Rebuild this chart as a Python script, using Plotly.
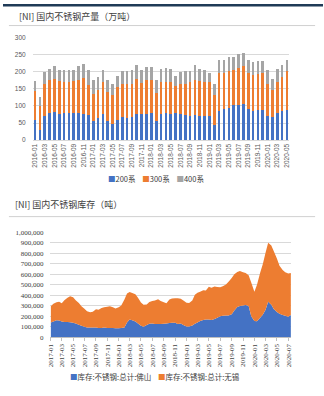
import plotly.graph_objects as go
import pandas as pd

# ---------------- Top chart: production (万吨) ----------------
months = [f"{y}-{m:02d}" for y in range(2016, 2021) for m in range(1, 13)][:53]
s200 = [60, 30, 72, 80, 83, 76, 78, 80, 78, 80, 76, 73,
        55, 66, 77, 55, 48, 60, 67, 66, 67, 75, 77, 75,
        80, 55, 77, 80, 77, 80, 75, 74, 72, 74, 72, 72,
        72, 44, 86, 92, 95, 103, 103, 105, 92, 84, 88, 88,
        70, 68, 78, 86, 88]
s300 = [84, 70, 91, 95, 94, 97, 92, 90, 94, 95, 106, 87,
        81, 80, 93, 86, 84, 95, 96, 97, 98, 102, 90, 100,
        95, 83, 93, 90, 93, 79, 88, 91, 98, 101, 101, 98,
        98, 87, 110, 104, 106, 102, 108, 110, 104, 105, 104, 108,
        95, 78, 92, 98, 113]
s400 = [28, 26, 37, 34, 38, 32, 34, 36, 34, 40, 39, 44,
        39, 37, 36, 34, 31, 31, 39, 39, 41, 42, 39, 38,
        38, 37, 39, 41, 39, 29, 36, 36, 33, 44, 36, 36,
        26, 32, 38, 38, 43, 39, 39, 40, 38, 38, 38, 36,
        39, 32, 39, 35, 34]
top_ticks = months[::2]

# ---------------- Bottom chart: inventory (吨) ----------------
inv_dates = pd.date_range("2017-01-01", periods=86, freq="SMS")
foshan = [140, 149, 160, 158, 150, 144, 144, 142, 138, 130, 118, 108,
          98, 93, 93, 93, 93, 88, 88, 92, 88, 87, 87, 85,
          84, 87, 92, 140, 168, 160, 148, 130, 108, 100, 115, 128,
          130, 126, 125, 125, 128, 131, 135, 137, 136, 126, 130, 115,
          102, 102, 112, 128, 140, 155, 163, 168, 167, 164, 172, 185,
          198, 205, 207, 207, 218, 255, 288, 296, 301, 307, 298, 200,
          155, 152, 185, 213, 260, 337, 310, 265, 240, 222, 212, 205,
          195, 212]
wuxi = [155, 169, 173, 180, 172, 208, 231, 248, 242, 222, 207, 187,
        172, 155, 145, 149, 172, 174, 190, 192, 202, 208, 198, 187,
        201, 215, 268, 275, 262, 262, 262, 246, 222, 208, 197, 207,
        215, 224, 237, 220, 204, 191, 223, 231, 234, 244, 236, 235,
        226, 223, 238, 277, 284, 277, 285, 277, 313, 308, 310, 293,
        278, 280, 295, 321, 347, 345, 334, 334, 319, 305, 292, 320,
        278, 348, 430, 482, 545, 563, 565, 551, 510, 458, 428, 415,
        413, 400]
foshan_t = [v * 1000 for v in foshan]
wuxi_t = [v * 1000 for v in wuxi]
inv_tickvals = pd.date_range("2017-01-01", "2020-07-01", freq="2MS")
inv_ticktext = [d.strftime("%Y-%m") for d in inv_tickvals]
inv_yticks = list(range(0, 1000001, 100000))

BLUE, ORANGE, GRAY = "#4472C4", "#ED7D31", "#A5A5A5"
W, H = 324, 396
def py(p):
    return 1 - p / H
def px(p):
    return p / W

top_series = [("200系", s200, BLUE), ("300系", s300, ORANGE), ("400系", s400, GRAY)]
inv_series = [("库存:不锈钢:总计:佛山", foshan_t, BLUE), ("库存:不锈钢:总计:无锡", wuxi_t, ORANGE)]

fig = go.Figure()
for name, vals, col in top_series:
    fig.add_trace(go.Bar(x=months, y=vals, name=name, marker_color=col,
                         marker_line_width=0, xaxis="x", yaxis="y", showlegend=False))
for name, vals, col in inv_series:
    fig.add_trace(go.Scatter(x=inv_dates, y=vals, name=name,
                             stackgroup="inv", mode="none", fillcolor=col,
                             line=dict(width=0), xaxis="x2", yaxis="y2", showlegend=False))

def legend_text(items, gap):
    return ("&nbsp;" * gap).join(
        f"<span style='color:{c}'>■</span>{n}" for n, _, c in items)

tickfont = dict(family="Liberation Sans, Arial", size=6.5, color="#595959")
seriffont = dict(family="Liberation Serif, Times New Roman", size=7, color="#404040")
cjk = "Noto Sans CJK SC"

fig.update_layout(
    width=W, height=H, margin=dict(l=0, r=0, t=0, b=0),
    paper_bgcolor="white", plot_bgcolor="white",
    barmode="stack", bargap=0.45, showlegend=False,
    xaxis=dict(domain=[px(30), px(290)], type="category", tickmode="array",
               tickvals=top_ticks, ticktext=top_ticks, tickangle=-90,
               tickfont=tickfont, showgrid=False, showline=True,
               linecolor="#D9D9D9", ticks="", anchor="y"),
    yaxis=dict(domain=[py(139), py(34)], range=[0, 300], dtick=50,
               tickfont=tickfont, gridcolor="#D9D9D9", gridwidth=1,
               zeroline=False, showline=False, anchor="x", ticklabelstandoff=6),
    xaxis2=dict(domain=[px(48), px(292)], type="date",
                range=["2016-12-30", "2020-07-18"], tickmode="array",
                tickvals=inv_tickvals, ticktext=inv_ticktext, tickangle=-90,
                tickfont=seriffont, showgrid=False, showline=True,
                linecolor="#BFBFBF", ticks="outside", ticklen=3,
                tickcolor="#BFBFBF", anchor="y2"),
    yaxis2=dict(domain=[py(340), py(233)], range=[0, 1000000],
                tickmode="array", tickvals=inv_yticks,
                ticktext=[f"{v:,}" for v in inv_yticks],
                tickfont=seriffont, gridcolor="#D9D9D9", gridwidth=1,
                zeroline=False, showline=False, anchor="x2", ticklabelstandoff=6),
    shapes=[
        dict(type="rect", xref="paper", yref="paper", x0=0, x1=1, y0=py(2.5), y1=1,
             fillcolor="#1F3B57", line_width=0),
        dict(type="line", xref="paper", yref="paper", x0=px(6), x1=px(316),
             y0=py(22), y1=py(22), line=dict(color="#D0D0D0", width=1)),
        dict(type="line", xref="paper", yref="paper", x0=px(6), x1=px(316),
             y0=py(217), y1=py(217), line=dict(color="#D0D0D0", width=1)),
    ],
    annotations=[
        dict(text="[NI] 国内不锈钢产量（万吨）", xref="paper", yref="paper",
             x=px(14), y=py(13), xanchor="left", yanchor="middle", showarrow=False,
             font=dict(family=cjk, size=9, color="#404040")),
        dict(text="[NI] 国内不锈钢库存（吨）", xref="paper", yref="paper",
             x=px(10), y=py(205), xanchor="left", yanchor="middle", showarrow=False,
             font=dict(family=cjk, size=9, color="#404040")),
        dict(text=legend_text(top_series, 4), xref="paper", yref="paper",
             x=px(155), y=py(178), xanchor="center", yanchor="middle", showarrow=False,
             font=dict(family=cjk, size=7.5, color="#404040")),
        dict(text=legend_text(inv_series, 4), xref="paper", yref="paper",
             x=px(154), y=py(380), xanchor="center", yanchor="middle", showarrow=False,
             font=dict(family=cjk, size=7.5, color="#404040")),
    ],
)

fig.write_html("out.html")
